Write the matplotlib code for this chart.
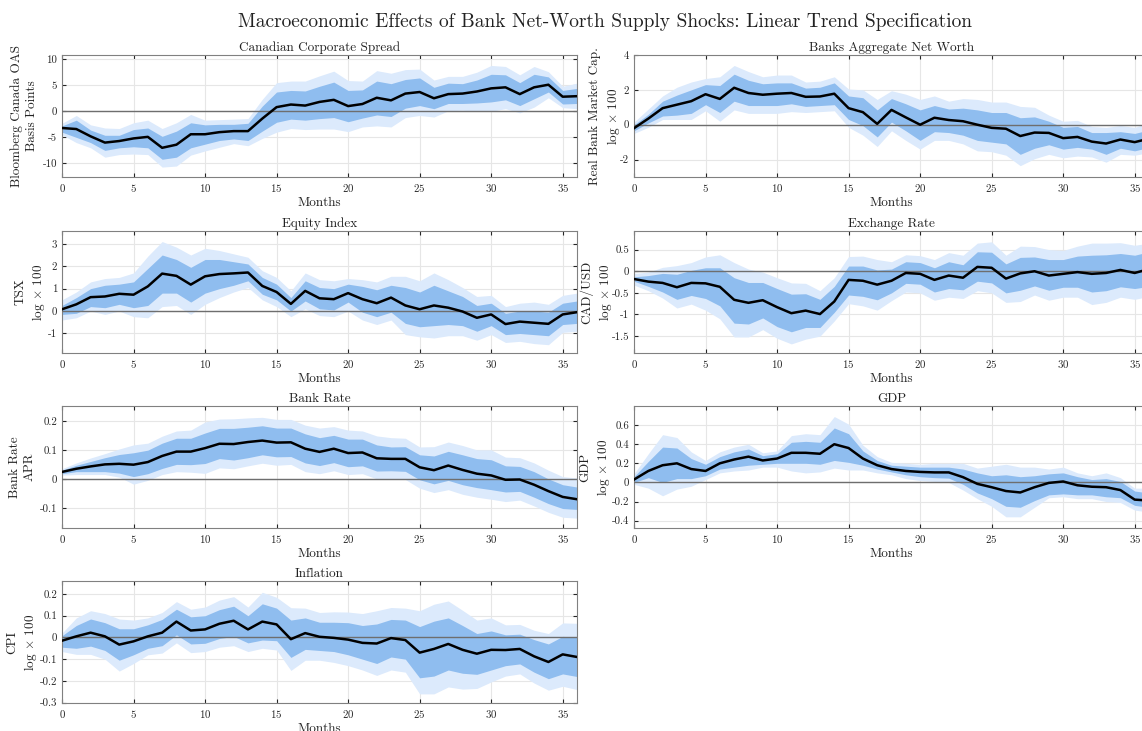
# coding: utf-8

import numpy as np
from matplotlib import pyplot as plt

# 横軸: 月
months = np.arange(37)

# Canadian Corporate Spread
spread_med = [-3.2, -3.4, -4.8, -6.0, -5.7, -5.2, -4.9, -7.0, -6.4, -4.4, -4.4, -4.0, -3.8, -3.8, -1.4, 0.8,
              1.3, 1.1, 1.8, 2.2, 1.0, 1.4, 2.6, 2.1, 3.4, 3.7, 2.5, 3.3, 3.4, 3.8, 4.4, 4.6, 3.3, 4.6, 5.1, 2.8, 2.9]
spread_hi68 = [-2.8, -1.7, -3.6, -4.6, -4.6, -3.5, -3.2, -4.8, -3.8, -2.2, -2.6, -2.5, -2.5, -2.3, 1.0, 3.7,
               4.0, 3.9, 4.8, 5.6, 4.0, 4.1, 5.8, 5.3, 6.1, 6.4, 4.6, 5.4, 5.3, 6.0, 7.1, 7.0, 5.5, 7.1, 6.6, 4.0, 4.4]
spread_lo68 = [-4.0, -5.0, -6.0, -7.5, -7.0, -6.8, -7.0, -9.2, -8.8, -7.0, -6.3, -5.6, -5.3, -5.6, -3.8, -2.1,
               -1.5, -1.7, -1.4, -1.2, -2.0, -1.3, -0.7, -1.0, 0.6, 1.1, 0.5, 1.5, 1.5, 1.6, 1.8, 2.2, 1.1, 2.4, 3.7, 1.4, 1.5]
spread_hi90 = [-2.3, -0.8, -2.6, -3.2, -3.3, -2.2, -1.7, -3.3, -2.2, -0.6, -1.7, -1.6, -1.5, -1.4, 2.3, 5.5,
               5.8, 5.8, 6.8, 7.7, 5.9, 5.8, 7.8, 7.3, 8.0, 8.1, 6.0, 6.7, 6.7, 7.5, 8.8, 8.6, 7.0, 8.6, 7.6, 4.8, 5.4]
spread_lo90 = [-4.5, -6.0, -7.0, -8.8, -8.3, -8.2, -8.3, -10.7, -10.5, -8.4, -7.6, -6.9, -6.2, -6.6, -5.2, -4.0,
               -3.3, -3.5, -3.4, -3.4, -3.9, -3.0, -2.8, -3.0, -1.2, -0.8, -1.1, 0.1, 0.2, 0.0, 0.0, 0.5, -0.3, 0.8, 2.6, 0.7, 0.5]

# Banks Aggregate Net Worth
nw_med = [-0.2, 0.35, 0.95, 1.15, 1.35, 1.75, 1.48, 2.12, 1.82, 1.72, 1.78, 1.82, 1.6, 1.62, 1.78, 0.95,
          0.72, 0.05, 0.85, 0.42, 0.0, 0.4, 0.27, 0.2, 0.0, -0.18, -0.23, -0.65, -0.45, -0.47, -0.77, -0.7,
          -0.97, -1.08, -0.85, -1.0, -0.8]
nw_hi68 = [0.0, 0.6, 1.35, 1.7, 2.0, 2.3, 2.25, 2.9, 2.55, 2.35, 2.4, 2.4, 2.1, 2.15, 2.4, 1.65,
           1.55, 0.85, 1.5, 1.2, 0.85, 1.1, 0.9, 0.95, 0.85, 0.7, 0.7, 0.4, 0.45, 0.2, -0.15, -0.1,
           -0.45, -0.45, -0.4, -0.5, -0.3]
nw_lo68 = [-0.35, 0.1, 0.5, 0.55, 0.65, 1.15, 0.7, 1.35, 1.1, 1.1, 1.1, 1.2, 1.05, 1.1, 1.15, 0.3,
           -0.05, -0.7, 0.15, -0.35, -0.9, -0.4, -0.45, -0.6, -0.9, -1.0, -1.1, -1.7, -1.35, -1.15, -1.4, -1.3,
           -1.4, -1.7, -1.35, -1.5, -1.3]
nw_hi90 = [0.15, 0.9, 1.65, 2.15, 2.45, 2.65, 2.75, 3.4, 3.05, 2.75, 2.85, 2.85, 2.45, 2.5, 2.75, 2.05,
           2.0, 1.45, 1.95, 1.75, 1.45, 1.65, 1.35, 1.5, 1.45, 1.3, 1.3, 1.05, 1.0, 0.55, 0.2, 0.25,
           -0.1, -0.15, -0.05, -0.15, 0.1]
nw_lo90 = [-0.5, -0.15, 0.3, 0.3, 0.3, 0.8, 0.2, 0.85, 0.65, 0.65, 0.65, 0.75, 0.7, 0.75, 0.8, -0.15,
           -0.6, -1.25, -0.35, -0.9, -1.4, -0.9, -0.9, -1.1, -1.5, -1.55, -1.75, -2.35, -1.95, -1.7, -1.9, -1.8,
           -1.85, -2.15, -1.7, -1.75, -1.6]

# Equity Index
eq_med = [0.08, 0.3, 0.62, 0.65, 0.77, 0.73, 1.1, 1.67, 1.57, 1.18, 1.55, 1.65, 1.68, 1.72, 1.12, 0.85,
          0.32, 0.9, 0.57, 0.53, 0.8, 0.53, 0.35, 0.6, 0.25, 0.08, 0.25, 0.15, -0.02, -0.3, -0.15, -0.58,
          -0.47, -0.52, -0.57, -0.15, -0.05]
eq_hi68 = [0.25, 0.6, 1.0, 1.15, 1.2, 1.3, 1.9, 2.5, 2.3, 1.95, 2.3, 2.3, 2.2, 2.1, 1.5, 1.2,
           0.6, 1.35, 1.05, 1.0, 1.2, 1.1, 0.95, 1.15, 1.05, 0.85, 1.15, 0.9, 0.65, 0.25, 0.35, -0.1,
           0.0, 0.0, -0.05, 0.35, 0.45]
eq_lo68 = [-0.15, -0.1, 0.2, 0.15, 0.3, 0.15, 0.25, 0.8, 0.8, 0.4, 0.8, 1.0, 1.15, 1.35, 0.75, 0.5,
           0.0, 0.45, 0.1, 0.05, 0.4, -0.05, -0.25, -0.05, -0.55, -0.7, -0.65, -0.6, -0.65, -0.9, -0.65, -1.05,
           -1.0, -1.05, -1.1, -0.6, -0.55]
eq_hi90 = [0.5, 0.85, 1.3, 1.45, 1.5, 1.7, 2.45, 3.1, 2.85, 2.5, 2.8, 2.7, 2.55, 2.4, 1.8, 1.5,
           0.9, 1.7, 1.4, 1.35, 1.45, 1.4, 1.3, 1.55, 1.55, 1.35, 1.7, 1.4, 1.05, 0.65, 0.7, 0.2,
           0.35, 0.4, 0.3, 0.7, 0.8]
eq_lo90 = [-0.4, -0.3, 0.0, -0.15, 0.0, -0.25, -0.3, 0.2, 0.25, -0.15, 0.3, 0.6, 0.85, 1.05, 0.5, 0.2,
           -0.25, 0.1, -0.2, -0.25, 0.0, -0.4, -0.6, -0.4, -1.05, -1.15, -1.2, -1.1, -1.1, -1.3, -1.05, -1.4,
           -1.35, -1.45, -1.5, -0.95, -0.9]

# Exchange Rate
fx_med = [-0.18, -0.24, -0.27, -0.37, -0.27, -0.28, -0.36, -0.66, -0.73, -0.67, -0.83, -0.97, -0.91, -0.99,
          -0.7, -0.2, -0.22, -0.31, -0.22, -0.04, -0.06, -0.2, -0.1, -0.15, 0.1, 0.08, -0.17, -0.05, 0.0,
          -0.1, -0.06, -0.02, -0.06, -0.04, 0.03, -0.04, 0.05]
fx_hi68 = [-0.13, -0.1, -0.05, -0.07, 0.02, 0.08, 0.08, -0.15, -0.26, -0.26, -0.4, -0.53, -0.52, -0.65,
           -0.35, 0.12, 0.12, 0.03, 0.05, 0.22, 0.2, 0.08, 0.22, 0.15, 0.45, 0.44, 0.17, 0.32, 0.33,
           0.27, 0.27, 0.35, 0.37, 0.38, 0.41, 0.37, 0.45]
fx_lo68 = [-0.23, -0.35, -0.48, -0.65, -0.56, -0.63, -0.8, -1.2, -1.22, -1.08, -1.28, -1.4, -1.3, -1.3,
           -0.95, -0.55, -0.58, -0.66, -0.5, -0.28, -0.3, -0.48, -0.4, -0.43, -0.23, -0.27, -0.5, -0.44, -0.34,
           -0.44, -0.37, -0.37, -0.48, -0.45, -0.36, -0.4, -0.35]
fx_hi90 = [-0.05, -0.02, 0.09, 0.13, 0.2, 0.33, 0.38, 0.2, 0.05, -0.02, -0.15, -0.27, -0.28, -0.45,
           -0.15, 0.34, 0.35, 0.27, 0.22, 0.38, 0.36, 0.27, 0.43, 0.37, 0.65, 0.68, 0.37, 0.58, 0.57,
           0.5, 0.48, 0.58, 0.65, 0.65, 0.66, 0.6, 0.65]
fx_lo90 = [-0.32, -0.45, -0.62, -0.85, -0.76, -0.9, -1.1, -1.52, -1.52, -1.35, -1.55, -1.68, -1.57, -1.5,
           -1.15, -0.75, -0.8, -0.9, -0.68, -0.48, -0.5, -0.67, -0.6, -0.63, -0.45, -0.5, -0.72, -0.7, -0.55,
           -0.67, -0.6, -0.6, -0.77, -0.72, -0.6, -0.65, -0.58]

# Bank Rate
br_med = [0.024, 0.035, 0.043, 0.05, 0.052, 0.049, 0.058, 0.079, 0.094, 0.094, 0.106, 0.121, 0.12, 0.127,
          0.132, 0.125, 0.126, 0.104, 0.093, 0.104, 0.089, 0.091, 0.071, 0.069, 0.069, 0.04, 0.03, 0.046,
          0.031, 0.018, 0.012, -0.003, -0.002, -0.02, -0.042, -0.062, -0.07]
br_hi68 = [0.03, 0.047, 0.06, 0.073, 0.084, 0.09, 0.099, 0.123, 0.14, 0.14, 0.158, 0.174, 0.174, 0.178,
           0.183, 0.175, 0.175, 0.155, 0.142, 0.15, 0.137, 0.137, 0.117, 0.11, 0.111, 0.083, 0.079, 0.095,
           0.083, 0.07, 0.066, 0.045, 0.043, 0.025, 0.0, -0.02, -0.028]
br_lo68 = [0.018, 0.025, 0.025, 0.025, 0.02, 0.008, 0.018, 0.036, 0.05, 0.049, 0.053, 0.07, 0.065, 0.073,
           0.083, 0.076, 0.077, 0.055, 0.046, 0.056, 0.042, 0.045, 0.027, 0.028, 0.026, -0.003, -0.017, -0.005,
           -0.02, -0.03, -0.037, -0.045, -0.043, -0.063, -0.085, -0.102, -0.105]
br_hi90 = [0.035, 0.055, 0.072, 0.087, 0.103, 0.117, 0.123, 0.147, 0.165, 0.168, 0.196, 0.206, 0.207, 0.21,
           0.212, 0.205, 0.205, 0.185, 0.175, 0.18, 0.168, 0.165, 0.148, 0.142, 0.14, 0.11, 0.111, 0.127,
           0.115, 0.1, 0.1, 0.075, 0.073, 0.055, 0.03, 0.008, 0.003]
br_lo90 = [0.013, 0.015, 0.015, 0.015, 0.006, -0.018, -0.005, 0.015, 0.025, 0.023, 0.019, 0.038, 0.035, 0.045,
           0.054, 0.047, 0.05, 0.025, 0.018, 0.028, 0.015, 0.018, 0.0, 0.0, -0.002, -0.032, -0.047, -0.037,
           -0.053, -0.063, -0.07, -0.078, -0.073, -0.093, -0.115, -0.132, -0.135]

# GDP
gdp_med = [0.03, 0.12, 0.18, 0.2, 0.14, 0.12, 0.2, 0.24, 0.27, 0.23, 0.25, 0.31, 0.31, 0.3, 0.4, 0.36,
           0.25, 0.18, 0.14, 0.12, 0.11, 0.105, 0.105, 0.055, -0.015, -0.05, -0.09, -0.105, -0.05, -0.005,
           0.01, -0.03, -0.045, -0.05, -0.08, -0.18, -0.19]
gdp_hi68 = [0.06, 0.22, 0.37, 0.36, 0.25, 0.19, 0.27, 0.32, 0.35, 0.28, 0.3, 0.42, 0.43, 0.42, 0.57, 0.51,
            0.33, 0.23, 0.18, 0.17, 0.16, 0.16, 0.16, 0.14, 0.1, 0.07, 0.08, 0.06, 0.07, 0.09,
            0.1, 0.06, 0.03, 0.04, 0.01, -0.09, -0.11]
gdp_lo68 = [0.0, 0.05, 0.0, 0.04, 0.04, 0.07, 0.14, 0.16, 0.18, 0.19, 0.2, 0.2, 0.2, 0.19, 0.23, 0.21,
            0.18, 0.14, 0.11, 0.08, 0.06, 0.05, 0.045, -0.02, -0.11, -0.17, -0.25, -0.26, -0.19, -0.13,
            -0.12, -0.13, -0.13, -0.15, -0.16, -0.24, -0.26]
gdp_hi90 = [0.09, 0.3, 0.5, 0.47, 0.32, 0.23, 0.32, 0.37, 0.4, 0.31, 0.33, 0.49, 0.51, 0.5, 0.69, 0.61,
            0.39, 0.27, 0.21, 0.2, 0.19, 0.2, 0.2, 0.2, 0.15, 0.17, 0.19, 0.16, 0.16, 0.14,
            0.16, 0.1, 0.07, 0.1, 0.05, -0.06, -0.06]
gdp_lo90 = [-0.02, -0.06, -0.14, -0.07, -0.04, 0.03, 0.1, 0.12, 0.13, 0.16, 0.16, 0.12, 0.1, 0.11, 0.15, 0.13,
            0.13, 0.1, 0.08, 0.04, 0.02, 0.01, 0.0, -0.08, -0.17, -0.25, -0.36, -0.36, -0.26, -0.16,
            -0.15, -0.17, -0.17, -0.2, -0.21, -0.29, -0.31]

# Inflation
cpi_med = [-0.015, 0.005, 0.022, 0.005, -0.033, -0.018, 0.005, 0.022, 0.073, 0.032, 0.037, 0.063, 0.077,
           0.037, 0.073, 0.06, -0.008, 0.02, 0.003, -0.002, -0.01, -0.025, -0.028, -0.003, -0.012, -0.07,
           -0.053, -0.03, -0.057, -0.075, -0.057, -0.058, -0.053, -0.087, -0.113, -0.078, -0.09]
cpi_hi68 = [0.008, 0.055, 0.085, 0.068, 0.04, 0.04, 0.058, 0.083, 0.13, 0.095, 0.1, 0.128, 0.144,
            0.1, 0.155, 0.135, 0.08, 0.09, 0.07, 0.07, 0.068, 0.055, 0.062, 0.083, 0.08, 0.05,
            0.075, 0.09, 0.055, 0.018, 0.03, 0.012, 0.015, -0.01, -0.03, 0.005, 0.0]
cpi_lo68 = [-0.045, -0.05, -0.04, -0.06, -0.105, -0.08, -0.05, -0.038, 0.012, -0.03, -0.027, -0.005, 0.005,
            -0.025, -0.012, -0.015, -0.092, -0.055, -0.06, -0.065, -0.08, -0.1, -0.12, -0.09, -0.1, -0.186,
            -0.178, -0.15, -0.165, -0.17, -0.15, -0.13, -0.122, -0.16, -0.19, -0.168, -0.18]
cpi_hi90 = [0.02, 0.09, 0.123, 0.11, 0.085, 0.08, 0.09, 0.115, 0.165, 0.13, 0.14, 0.172, 0.188,
            0.14, 0.208, 0.185, 0.137, 0.135, 0.115, 0.118, 0.117, 0.11, 0.123, 0.138, 0.135, 0.123,
            0.153, 0.168, 0.125, 0.08, 0.09, 0.058, 0.06, 0.033, 0.018, 0.067, 0.065]
cpi_lo90 = [-0.065, -0.078, -0.078, -0.1, -0.155, -0.12, -0.08, -0.072, -0.025, -0.07, -0.065, -0.045, -0.038,
            -0.065, -0.05, -0.058, -0.152, -0.105, -0.105, -0.115, -0.13, -0.15, -0.175, -0.15, -0.16, -0.26,
            -0.26, -0.228, -0.238, -0.235, -0.205, -0.178, -0.168, -0.21, -0.243, -0.225, -0.24]

titles = ['Canadian Corporate Spread', 'Banks Aggregate Net Worth', 'Equity Index', 'Exchange Rate',
          'Bank Rate', 'GDP', 'Inflation']
ylabels = ['Bloomberg Canada OAS\nBasis Points', 'Real Bank Market Cap.\nlog $\\times$ 100',
           'TSX\nlog $\\times$ 100', 'CAD/USD\nlog $\\times$ 100', 'Bank Rate\nAPR',
           'GDP\nlog $\\times$ 100', 'CPI\nlog $\\times$ 100']
series = [
    (spread_med, spread_lo68, spread_hi68, spread_lo90, spread_hi90),
    (nw_med, nw_lo68, nw_hi68, nw_lo90, nw_hi90),
    (eq_med, eq_lo68, eq_hi68, eq_lo90, eq_hi90),
    (fx_med, fx_lo68, fx_hi68, fx_lo90, fx_hi90),
    (br_med, br_lo68, br_hi68, br_lo90, br_hi90),
    (gdp_med, gdp_lo68, gdp_hi68, gdp_lo90, gdp_hi90),
    (cpi_med, cpi_lo68, cpi_hi68, cpi_lo90, cpi_hi90),
]
ylims = [(-12.6, 10.8), (-3, 4), (-1.87, 3.57), (-1.89, 0.93), (-0.169, 0.251), (-0.477, 0.8), (-0.302, 0.26)]
yticks = [[-10, -5, 0, 5, 10], [-2, 0, 2, 4], [-1, 0, 1, 2, 3], [-1.5, -1, -0.5, 0, 0.5],
          [-0.1, 0, 0.1, 0.2], [-0.4, -0.2, 0, 0.2, 0.4, 0.6], [-0.3, -0.2, -0.1, 0, 0.1, 0.2]]


def main():
    plt.rcParams['font.family'] = ['cmr10', 'DejaVu Serif']
    plt.rcParams['mathtext.fontset'] = 'cm'
    plt.rcParams['axes.unicode_minus'] = False
    plt.rcParams['axes.formatter.use_mathtext'] = True

    fig = plt.figure(figsize=(11.42, 7.31), dpi=100)
    fig.text(605 / 1142, 0.97, 'Macroeconomic Effects of Bank Net-Worth Supply Shocks: Linear Trend Specification',
             ha='center', va='center', fontsize=14, color='#222222')

    # 軸の配置 (ピクセル基準)
    lefts = [62 / 1142, 634 / 1142]
    width = 515 / 1142
    height = 122 / 731
    tops = [55, 231, 406, 581]
    label_x = [-0.074, -0.056, -0.061, -0.072, -0.077, -0.074, -0.0765]

    for i in range(7):
        row, col = divmod(i, 2)
        bottom = 1 - (tops[row] + 122) / 731
        ax = fig.add_axes([lefts[col], bottom, width, height])
        med, lo68, hi68, lo90, hi90 = series[i]
        ax.fill_between(months, lo90, hi90, color='#dceafc', lw=0, zorder=1)
        ax.fill_between(months, lo68, hi68, color='#8fbdef', lw=0, zorder=2)
        ax.axhline(0, color='#6e6e6e', lw=1.0, zorder=3)
        ax.plot(months, med, color='black', lw=1.8, zorder=4)

        ax.set_xlim(0, 36)
        ax.set_ylim(*ylims[i])
        ax.set_xticks(range(0, 40, 5))
        ax.set_yticks(yticks[i])
        ax.set_yticklabels(['%g' % v for v in yticks[i]])
        ax.grid(True, color='#e6e6e6', lw=0.8, zorder=0)
        ax.set_axisbelow(True)
        ax.tick_params(direction='in', length=3, labelsize=7.8, colors='#262626', top=True, right=True,
                       labeltop=False, labelright=False)
        for sp in ax.spines.values():
            sp.set_color('#808080')
            sp.set_linewidth(0.8)
        ax.set_title(titles[i], fontsize=9.5, pad=3, color='#222222')
        ax.set_xlabel('Months', fontsize=9.5, labelpad=2, color='#222222')
        ax.set_ylabel(ylabels[i], fontsize=9.5, color='#222222', linespacing=1.3, va='center')
        ax.yaxis.set_label_coords(label_x[i], 0.5)

    fig.savefig('out.png', dpi=100)


if __name__ == "__main__":
    main()
